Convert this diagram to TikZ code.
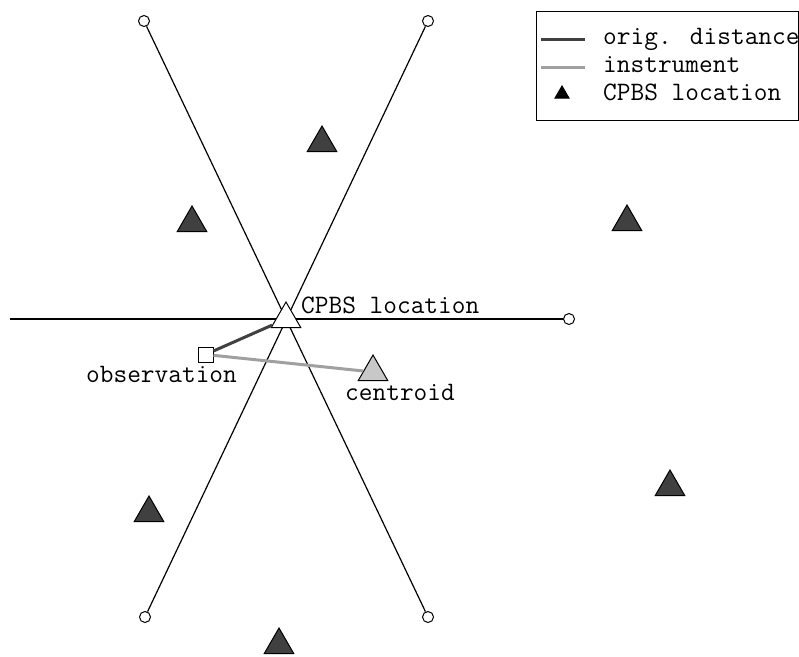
\documentclass[tikz,border=0pt]{standalone}
\usepackage{fontspec}
\usetikzlibrary{shapes.geometric}
\definecolor{darkgrey}{RGB}{64,64,64}
\definecolor{lightgrey}{RGB}{160,160,160}
\definecolor{paleGrey}{RGB}{200,200,200}
\begin{document}
\begin{tikzpicture}[x=1pt, y=-1pt, font=\ttfamily\fontsize{26.6}{30}\selectfont]
        \tikzset{
  site/.style={
    regular polygon,
    regular polygon sides=3,
    draw,
    line width=1pt,
    inner sep=0pt,
    minimum size=34pt,
    fill=darkgrey
  },
  end point/.style={
    circle,
    draw,
    line width=1pt,
    inner sep=0pt,
    minimum size=11pt
  },
  axis/.style={line width=1.2pt},
  orig dist/.style={draw=darkgrey, line width=3pt},
  instr/.style={draw=lightgrey, line width=3pt}
}
\useasboundingbox (0,0) rectangle (799,656);

% the three lines through the CPBS location
\foreach \n/\p in {tl/{144,21}, tr/{428,21}, bl/{145,617}, br/{428,617}, r/{569,319}}
  \node [end point] (end-\n) at (\p) {};
\coordinate (end-l) at (10,319);

\draw [axis] (end-tl) -- (end-br);
\draw [axis] (end-tr) -- (end-bl);
\draw [axis] (end-l) -- (end-r);

% neighbouring sites
\foreach \p [count=\i] in {{322,143},{192,223},{627,222},{670,487},{149,513},{279,645}}
  \node [site] (site-\i) at (\p) {};

\node [site, fill=white] (cpbs) at (286,319) {};
\node [site, fill=paleGrey] (centroid) at (373,372) {};
\node [draw, line width=1pt, fill=white, minimum size=15pt, inner sep=0pt] (obs) at (205.5,354.5) {};

\draw [orig dist] (obs) -- (cpbs);
\draw [instr] (obs) -- (centroid);

\node [anchor=base west, inner sep=0pt] (cpbs-label) at (301,313) {CPBS location};
\node [anchor=base west, inner sep=0pt] (obs-label) at (86,382) {observation};
\node [anchor=base west, inner sep=0pt] (centroid-label) at (345,400) {centroid};

% legend
\draw [line width=1pt] (536,11) rectangle (798,120);
\coordinate (leg-a1) at (541,39);
\coordinate (leg-a2) at (585,39);
\coordinate (leg-b1) at (541,67);
\coordinate (leg-b2) at (585,67);
\draw [orig dist] (leg-a1) -- (leg-a2);
\draw [instr] (leg-b1) -- (leg-b2);
\node [site, fill=black, minimum size=16pt] (leg-site) at (562,94) {};
\foreach \t [count=\y] in {orig. distance, instrument, CPBS location}
  \node [anchor=base west, inner sep=0pt] (leg-text-\y) at (603,16+28*\y) {\t};
      \end{tikzpicture}
\end{document}
